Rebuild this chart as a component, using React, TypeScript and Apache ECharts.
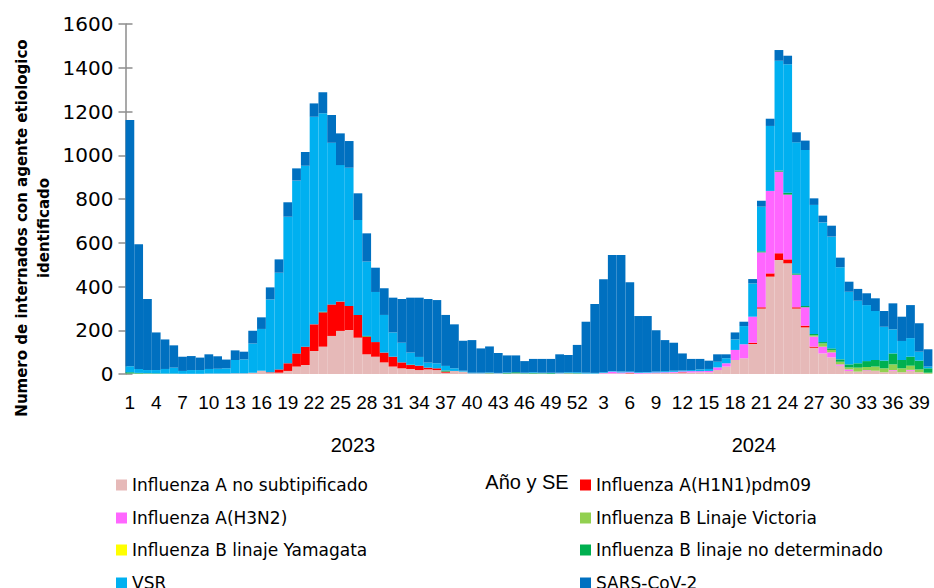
import React, { useEffect, useRef } from 'react';
import * as echarts from 'echarts';

const weekLabels: string[] = [
  '1','2','3','4','5','6','7','8','9','10','11','12','13','14','15','16','17','18','19','20',
  '21','22','23','24','25','26','27','28','29','30','31','32','33','34','35','36','37','38','39','40',
  '41','42','43','44','45','46','47','48','49','50','51','52',
  '1','2','3','4','5','6','7','8','9','10','11','12','13','14','15','16','17','18','19','20',
  '21','22','23','24','25','26','27','28','29','30','31','32','33','34','35','36','37','38','39','40',
];

const yearLabels = ['2023', '2024'];
const xTitle = 'Año y SE';
const yTitle = ['Numero de internados con agente etiologico', 'identificado'];

const fluANoSub: number[] = [
  2,2,2,1,1,1,1,1,1,2,2,2,3,3,6,15,6,6,14,34,41,105,125,174,197,201,166,90,79,53,34,26,23,18,21,18,6,14,11,3,3,3,3,2,3,2,2,2,1,3,3,2,
  2,2,3,3,3,3,2,3,4,5,6,6,7,8,8,18,34,64,72,137,299,445,521,506,299,213,120,94,76,38,14,11,14,15,8,15,8,15,8,2,
];
const fluH1N1: number[] = [
  0,0,0,0,0,0,0,0,0,0,0,0,0,0,0,0,2,15,35,60,84,122,157,144,134,110,104,81,67,45,45,27,18,20,8,8,5,0,0,0,0,0,0,0,0,0,0,0,0,0,0,0,
  0,0,0,0,0,2,0,0,0,0,0,2,0,0,0,0,0,0,0,6,6,15,31,18,6,8,5,0,0,0,0,0,0,0,0,0,0,0,0,0,
];
const fluH3N2: number[] = [
  0,0,0,0,0,0,0,0,0,0,0,0,0,0,0,0,0,0,0,0,0,0,0,0,0,0,0,0,0,0,0,0,0,0,0,0,0,0,0,0,0,0,0,0,0,0,0,0,0,0,0,0,
  0,0,2,8,4,3,3,3,3,3,4,4,6,5,6,12,15,46,64,119,251,377,373,296,149,84,46,31,23,6,7,0,3,0,0,3,0,4,0,0,
];
const fluBVictoria: number[] = [
  0,0,0,0,0,0,0,0,0,0,0,0,0,0,0,0,0,0,0,0,0,0,0,0,0,0,0,0,0,0,0,0,0,0,0,0,0,0,0,0,0,0,0,0,0,0,0,0,0,0,0,0,
  0,0,0,0,0,0,0,0,0,0,0,0,0,0,0,0,0,0,0,0,0,0,0,0,0,0,6,15,11,12,9,18,15,19,18,26,18,19,13,4,
];
const fluBYamagata: number[] = [
  0,0,0,0,0,0,0,0,0,0,0,0,0,0,0,0,0,0,0,0,0,0,0,0,0,0,0,0,0,0,0,0,0,0,0,0,0,0,0,0,0,0,0,0,0,0,0,0,0,0,0,0,
  0,0,0,0,0,0,0,0,0,0,0,0,0,0,0,0,0,0,0,0,0,0,0,0,0,0,0,0,0,0,0,0,0,0,0,0,0,0,0,0,
];
const fluBNoDet: number[] = [
  6,3,2,2,1,1,0,0,0,0,0,0,0,0,0,0,0,0,0,0,0,0,3,0,0,0,0,3,0,0,0,0,2,0,0,0,5,0,0,0,0,2,0,3,5,2,3,2,3,0,2,2,
  0,0,0,0,0,0,0,0,0,0,0,0,0,0,0,0,0,0,0,0,5,0,5,9,6,6,6,6,7,11,14,20,27,30,35,50,38,41,40,20,
];
const vsr: number[] = [
  28,18,14,15,21,27,13,17,17,21,22,24,61,64,133,191,333,442,670,790,827,949,907,739,624,632,434,340,229,172,111,90,55,40,23,23,21,12,4,3,3,2,2,2,0,2,3,2,2,3,3,4,
  4,3,3,3,4,4,3,3,4,5,5,4,5,8,9,26,23,48,83,152,204,297,502,587,599,713,590,547,511,421,332,286,256,224,155,110,87,85,41,8,
];
const sarsCov2: number[] = [
  1125,570,325,172,135,102,65,64,57,67,57,40,44,35,59,53,55,61,66,56,63,61,96,127,145,122,122,129,111,122,159,200,251,271,291,289,233,201,137,149,111,119,91,78,77,53,61,63,63,84,79,125,
  233,315,425,530,533,407,257,256,189,142,128,78,51,48,38,34,18,32,20,20,27,33,49,39,46,43,30,31,50,44,46,54,54,58,72,119,111,151,130,79,
];

const seriesNames = [
  'Influenza A no subtipificado',
  'Influenza A(H1N1)pdm09',
  'Influenza A(H3N2)',
  'Influenza B Linaje Victoria',
  'Influenza B linaje Yamagata',
  'Influenza B linaje no determinado',
  'VSR',
  'SARS-CoV-2',
];
const seriesData = [fluANoSub, fluH1N1, fluH3N2, fluBVictoria, fluBYamagata, fluBNoDet, vsr, sarsCov2];
const seriesColors = ['#E6B9B8', '#FF0000', '#FF66FF', '#92D050', '#FFFF00', '#00B050', '#00B0F0', '#0070C0'];

// legend order: left column then right column, row by row
const legendOrder = [0, 1, 2, 3, 4, 5, 6, 7];

export default function App() {
  const ref = useRef<HTMLDivElement>(null);
  useEffect(() => {
    if (!ref.current) return;
    const chart = echarts.init(ref.current, null, { renderer: 'svg' });
    const rowTops = [475, 508, 540, 573];
    const colLefts = [116, 580];
    const legends = legendOrder.map((si, k) => ({
      orient: 'horizontal' as const,
      left: colLefts[k % 2],
      top: rowTops[Math.floor(k / 2)],
      itemWidth: 11,
      itemHeight: 11,
      icon: 'rect',
      selectedMode: false,
      padding: 0,
      data: [seriesNames[si]],
      textStyle: { fontFamily: 'DejaVu Sans', fontSize: 17, color: '#000', lineHeight: 20 },
    }));
    chart.setOption({
      animation: false,
      backgroundColor: '#fff',
      grid: { left: 125.5, right: 1.6, top: 24, bottom: 214, containLabel: false },
      xAxis: {
        type: 'category',
        data: weekLabels,
        boundaryGap: true,
        axisLine: { show: false },
        axisTick: { show: false },
        axisLabel: {
          interval: 2,
          margin: 19,
          fontFamily: 'Liberation Sans',
          fontSize: 19,
          color: '#000',
        },
      },
      yAxis: [
        {
          type: 'value',
          min: 0,
          max: 1600,
          interval: 200,
          axisLine: { show: true, lineStyle: { color: '#8C8C8C', width: 1.5 } },
          axisTick: { show: true, length: 7, inside: false, lineStyle: { color: '#8C8C8C', width: 1.5 } },
          splitLine: { show: false },
          axisLabel: {
            margin: 12,
            fontFamily: 'DejaVu Sans',
            fontSize: 20,
            color: '#000',
            formatter: (v: number) => String(v),
          },
        },
        {
          type: 'value',
          position: 'left',
          min: 0,
          max: 1600,
          interval: 200,
          axisLine: { show: false },
          axisTick: { show: true, length: 7, inside: true, lineStyle: { color: '#8C8C8C', width: 1.5 } },
          splitLine: { show: false },
          axisLabel: { show: false },
        },
      ],
      legend: legends,
      graphic: [
        {
          type: 'text',
          x: 22,
          y: 228,
          rotation: Math.PI / 2,
          style: {
            text: yTitle[0],
            font: 'bold 15px "DejaVu Sans"',
            fill: '#000',
            textAlign: 'center',
            textVerticalAlign: 'middle',
          },
        },
        {
          type: 'text',
          x: 44,
          y: 228,
          rotation: Math.PI / 2,
          style: {
            text: yTitle[1],
            font: 'bold 15px "DejaVu Sans"',
            fill: '#000',
            textAlign: 'center',
            textVerticalAlign: 'middle',
          },
        },
        {
          type: 'text',
          x: 353,
          y: 445,
          style: { text: yearLabels[0], font: '20px "Liberation Sans"', fill: '#000', textAlign: 'center', textVerticalAlign: 'middle' },
        },
        {
          type: 'text',
          x: 754,
          y: 445,
          style: { text: yearLabels[1], font: '20px "Liberation Sans"', fill: '#000', textAlign: 'center', textVerticalAlign: 'middle' },
        },
        {
          type: 'text',
          x: 527,
          y: 482,
          style: { text: xTitle, font: '20px "Liberation Sans"', fill: '#000', textAlign: 'center', textVerticalAlign: 'middle' },
        },
      ],
      series: seriesNames.map((name, i) => ({
        name,
        type: 'bar',
        stack: 'total',
        data: seriesData[i],
        barCategoryGap: '0%',
        itemStyle: { color: seriesColors[i] },
        emphasis: { disabled: true },
      })),
    });
    return () => chart.dispose();
  }, []);
  return <div ref={ref} style={{ position: 'fixed', left: 0, top: 0, width: 934, height: 588 }} />;
}
